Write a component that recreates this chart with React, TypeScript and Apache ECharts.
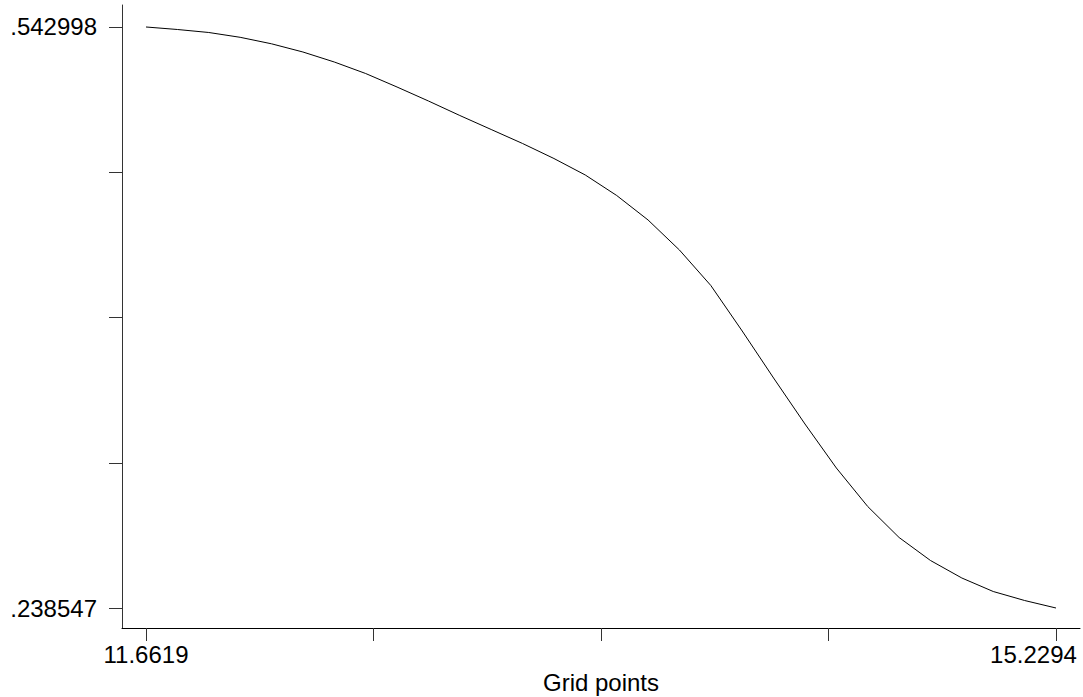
import React, { useEffect, useRef } from "react";
import * as echarts from "echarts";

// Grid points (x) and estimated values (y)
const gridPoints = [
  11.6619, 11.7849, 11.9079, 12.031, 12.154, 12.277, 12.4, 12.523, 12.646, 12.7691,
  12.8921, 13.0151, 13.1381, 13.2611, 13.3841, 13.5072, 13.6302, 13.7532, 13.8762, 13.9992,
  14.1222, 14.2453, 14.3683, 14.4913, 14.6143, 14.7373, 14.8603, 14.9834, 15.1064, 15.2294,
];
const values = [
  0.542998, 0.541688, 0.540116, 0.537601, 0.534195, 0.529898, 0.524658, 0.518631, 0.511557, 0.504221,
  0.496623, 0.489287, 0.481951, 0.47409, 0.465444, 0.454702, 0.441864, 0.426143, 0.407541, 0.383698,
  0.35907, 0.334965, 0.311909, 0.291734, 0.27549, 0.263438, 0.254267, 0.247193, 0.242477, 0.238547,
];

const xTicks = [11.6619, 12.553775, 13.44565, 14.337525, 15.2294];
const xTickLabels = ["11.6619", "15.2294"];
const xLabelValues = [11.6619, 15.2294];
const yTicks = [0.238547, 0.3146598, 0.3907725, 0.4668853, 0.542998];
const yTickLabels = [".238547", ".542998"];
const yLabelValues = [0.238547, 0.542998];

const xAxisTitle = "Grid points";

function labelIndex(v: number, vals: number[]) {
  for (let i = 0; i < vals.length; i++) {
    if (Math.abs(vals[i] - v) < 1e-6) return i;
  }
  return -1;
}

export default function App() {
  const ref = useRef<HTMLDivElement>(null);
  useEffect(() => {
    if (!ref.current) return;
    document.body.style.margin = "0";
    const chart = echarts.init(ref.current, undefined, { renderer: "svg", width: 1083, height: 697 });
    const font = "Liberation Sans, Arial, sans-serif";
    const textStyle = { color: "#000", fontFamily: font, fontSize: 24 };
    chart.setOption({
      animation: false,
      backgroundColor: "#fff",
      grid: { left: 122, right: 3, top: 5, bottom: 69, containLabel: false, outerBoundsMode: "none" },
      xAxis: {
        type: "value",
        min: 11.56781,
        max: 15.32349,
        splitLine: { show: false },
        axisLine: { show: true, onZero: false, lineStyle: { color: "#000", width: 1 } },
        axisTick: { show: true, length: 13, customValues: xTicks, lineStyle: { color: "#333" } },
        axisLabel: {
          show: true,
          customValues: xLabelValues,
          margin: 14,
          hideOverlap: false,
          ...textStyle,
          formatter: (v: number) => {
            const i = labelIndex(v, xLabelValues);
            if (i < 0) return "";
            return i === xLabelValues.length - 1 ? `{last|${xTickLabels[i]}}` : xTickLabels[i];
          },
          rich: {
            last: { ...textStyle, padding: [0, 45, 0, 0] },
          },
        },
        name: xAxisTitle,
        nameLocation: "middle",
        nameGap: 38,
        nameTextStyle: textStyle,
      },
      yAxis: {
        type: "value",
        min: 0.228067,
        max: 0.554526,
        splitLine: { show: false },
        axisLine: { show: true, onZero: false, lineStyle: { color: "#333", width: 1 } },
        axisTick: { show: true, length: 13, customValues: yTicks, lineStyle: { color: "#333" } },
        axisLabel: {
          show: true,
          customValues: yLabelValues,
          margin: 25,
          ...textStyle,
          formatter: (v: number) => {
            const i = labelIndex(v, yLabelValues);
            return i < 0 ? "" : yTickLabels[i];
          },
        },
      },
      series: [
        {
          type: "line",
          data: gridPoints.map((x, i) => [x, values[i]]),
          showSymbol: false,
          lineStyle: { color: "#000", width: 1 },
          smooth: false,
        },
      ],
    });
    return () => chart.dispose();
  }, []);
  return (
    <div
      ref={ref}
      style={{ position: "fixed", left: 0, top: 0, width: 1083, height: 697, background: "#fff" }}
    />
  );
}
